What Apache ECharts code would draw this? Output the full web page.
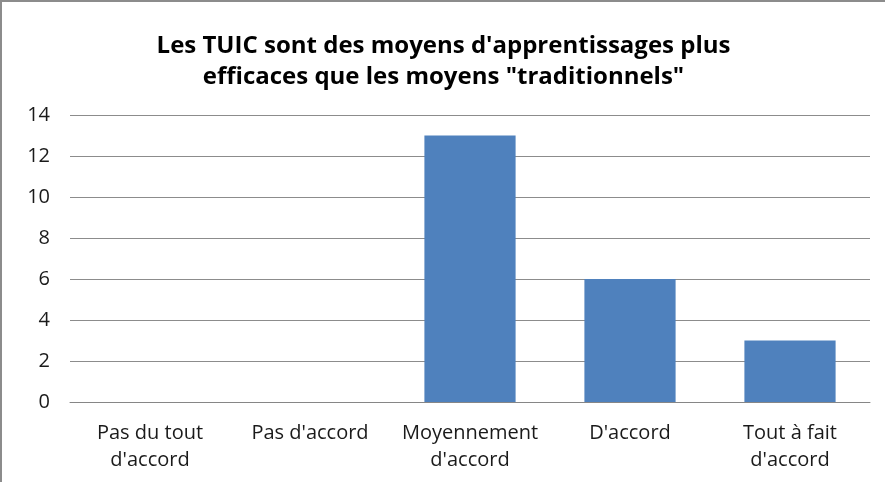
<!DOCTYPE html>
<html>
<head>
<meta charset="utf-8">
<script src="https://cdn.jsdelivr.net/npm/echarts@6/dist/echarts.min.js"></script>
<style>
  html, body { margin: 0; padding: 0; background: #fff; }
  #chart { width: 885px; height: 482px; box-sizing: border-box; border-left: 2px solid #8c8c8c; border-top: 2px solid #8c8c8c; }
</style>
</head>
<body>
<div id="chart"></div>
<script>
// data
const chartTitle = "Les TUIC sont des moyens d'apprentissages plus\nefficaces que les moyens \"traditionnels\""
const categories = ["Pas du tout\nd'accord", "Pas d'accord", "Moyennement\nd'accord", "D'accord", "Tout à fait\nd'accord"]
const values = [0, 0, 13, 6, 3]
const yTicks = { min: 0, max: 14, interval: 2 }

const font = "'Open Sans', sans-serif"

const chart = echarts.init(document.getElementById('chart'))
chart.setOption({
  animation: false,
  title: {
    text: chartTitle,
    left: 'center',
    top: 24,
    textStyle: { fontFamily: font, fontSize: 24, fontWeight: 'bold', color: '#000', lineHeight: 31 }
  },
  grid: { left: 68, right: 15, top: 113, bottom: 80, containLabel: false },
  xAxis: {
    type: 'category',
    data: categories,
    axisLine: { lineStyle: { color: '#868686', width: 1 } },
    axisTick: { show: false },
    axisLabel: { fontFamily: font, fontSize: 20, color: '#1a1a1a', lineHeight: 27, margin: 18, interval: 0 }
  },
  yAxis: {
    type: 'value',
    min: yTicks.min,
    max: yTicks.max,
    interval: yTicks.interval,
    axisLine: { show: false },
    axisTick: { show: false },
    axisLabel: { fontFamily: font, fontSize: 20, color: '#1a1a1a', margin: 20 },
    splitLine: { lineStyle: { color: '#8c8c8c', width: 1 } }
  },
  series: [{
    type: 'bar',
    data: values,
    barWidth: '57%',
    itemStyle: { color: '#4f81bd' }
  }]
})
</script>
</body>
</html>
